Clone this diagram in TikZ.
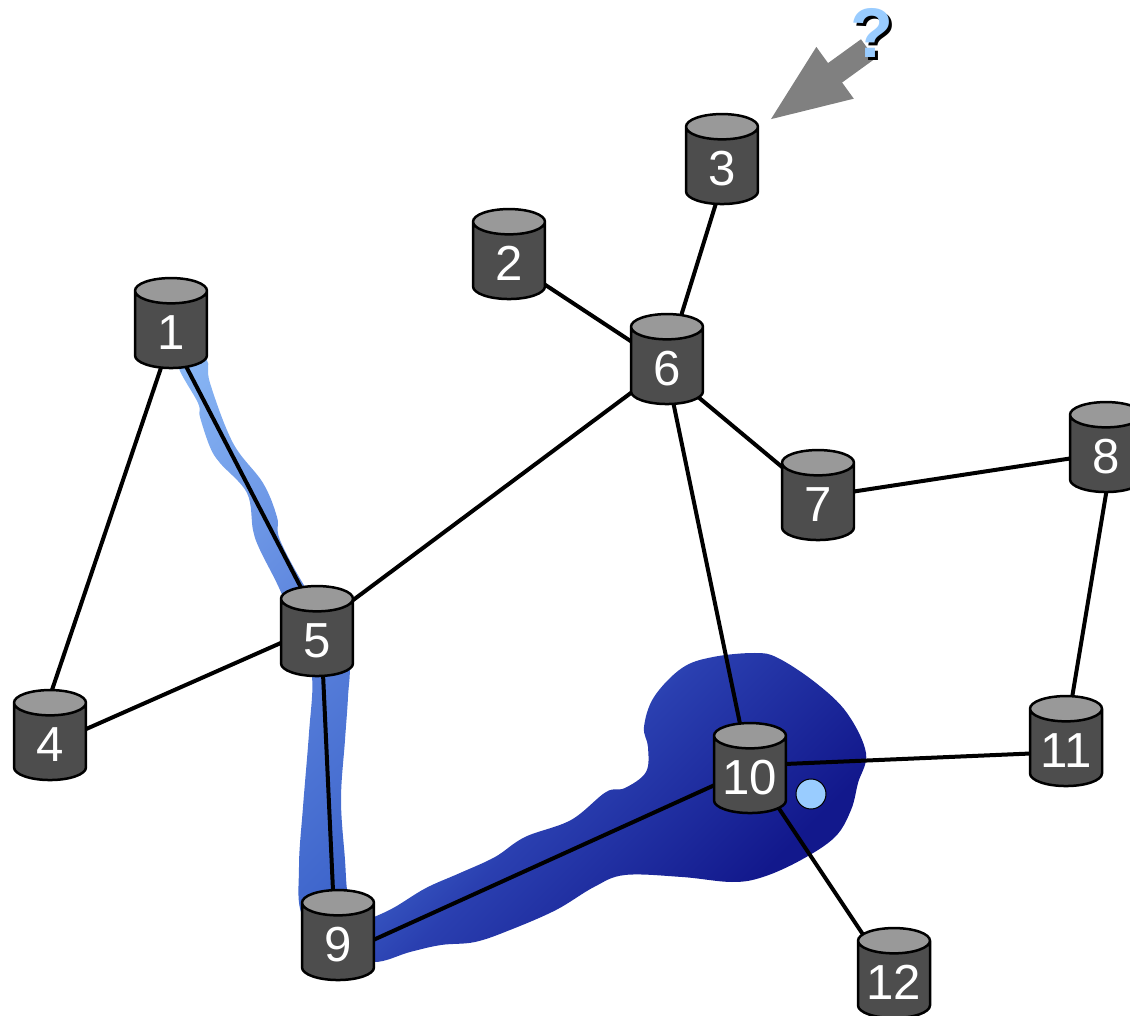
\documentclass[tikz,border=0pt]{standalone}
\usepackage{fontspec}
\setmainfont{Liberation Sans}
\usetikzlibrary{arrows.meta}
\usetikzlibrary{backgrounds}
\usetikzlibrary{shapes.geometric}
\definecolor{DbBody}{HTML}{4D4D4D}
\definecolor{DbTop}{HTML}{999999}
\definecolor{SkyDot}{HTML}{99CCFF}
\definecolor{RouteA}{HTML}{8AB8F5}
\definecolor{RouteB}{HTML}{5E86DE}
\definecolor{RouteC}{HTML}{3F66CC}
\definecolor{RouteD}{HTML}{2A3FB0}
\definecolor{RouteE}{HTML}{12188C}
\pgfdeclarehorizontalshading{routeshade}{100bp}{
  color(0bp)=(RouteA); color(15bp)=(RouteA); color(35bp)=(RouteB);
  color(52bp)=(RouteC); color(60bp)=(RouteD); color(75bp)=(RouteE);
  color(100bp)=(RouteE)}
\tikzset{
  dbnode/.style={shape=cylinder,
    shape border rotate=90,
    aspect=0.45,
    cylinder uses custom fill,
    cylinder body fill=DbBody,
    cylinder end fill=DbTop,
    draw=black,
    line width=0.05cm,
    inner sep=0pt,
    minimum width=1.44cm,
    minimum height=1.8cm,
    text width=32pt,
    align=center,
    text height=22pt,
    text depth=0pt,
    text=white,
    font=\fontsize{28}{28}\selectfont},
  link/.style={draw=black,line width=0.08cm}
}
\begin{document}
\begin{tikzpicture}[x=0.02cm,y=-0.02cm]
    \useasboundingbox (0,0) rectangle (1130,1016);
    \clip (0,0) rectangle (1130,1016);

    \node[name=n1,dbnode] at (171,330) {1};
    \node[name=n2,dbnode] at (509,261) {2};
    \node[name=n3,dbnode] at (722,166) {3};
    \node[name=n4,dbnode] at (50,742) {4};
    \node[name=n5,dbnode] at (317,638) {5};
    \node[name=n6,dbnode] at (667,366) {6};
    \node[name=n7,dbnode] at (818,502) {7};
    \node[name=n8,dbnode] at (1106,454) {8};
    \node[name=n9,dbnode] at (338,942) {9};
    \node[name=n10,dbnode] at (750,775) {10};
    \node[name=n11,dbnode] at (1066,748) {11};
    \node[name=n12,dbnode] at (894,980) {12};

    \begin{pgfonlayer}{background}
    % the route
    \shade[shading=routeshade,shading angle=-45]
      plot[smooth cycle,tension=0.6] coordinates {
      (190,350) (207,360) (210,383) (233,443) (263,483) (277,517) (280,540)
      (307,590) (335,625) (349,660) (348,697) (345,740) (341,800) (345,860)
      (347,890) (352,925) (374,917) (395,907) (426,888) (460,873) (495,857)
      (525,837) (571,820) (606,792) (625,788) (646,772) (648,747) (644,727)
      (654,697) (682,668) (713,657) (755,653) (778,658) (816,683) (847,713)
      (866,753) (858,783) (851,810) (835,837) (801,860) (763,877) (732,882)
      (682,877) (625,875) (594,887) (556,910) (510,930) (475,942) (441,945)
      (410,952) (374,962) (340,950) (303,917) (299,867) (303,807) (309,733)
      (312,677) (300,640) (280,590) (260,550) (253,530) (247,493) (220,463)
      (210,447) (200,417) (198,403) (178,365)};

    \path ([shift={(-5,23)}]n1.center) edge[link] ([shift={(2,-52)}]n4.center);
    \path ([shift={(-8,-8)}]n1.center) edge[link] ([shift={(6,-8)}]n5.center);
    \path ([shift={(0,0)}]n2.center) edge[link] ([shift={(0,-1)}]n6.center);
    \path ([shift={(8,-8)}]n3.center) edge[link] ([shift={(1,-8)}]n6.center);
    \path ([shift={(0,0)}]n6.center) edge[link] ([shift={(0,-11)}]n5.center);
    \path ([shift={(0,5)}]n6.center) edge[link] ([shift={(0,-5)}]n7.center);
    \path ([shift={(-3,-8)}]n6.center) edge[link] ([shift={(-1,-8)}]n10.center);
    \path ([shift={(0,-5)}]n7.center) edge[link] ([shift={(0,-1)}]n8.center);
    \path ([shift={(8,-8)}]n8.center) edge[link] ([shift={(-1,-8)}]n11.center);
    \path ([shift={(0,3)}]n4.center) edge[link] ([shift={(0,-11)}]n5.center);
    \path ([shift={(4,-8)}]n5.center) edge[link] ([shift={(-3,-8)}]n9.center);
    \path ([shift={(0,14)}]n9.center) edge[link] ([shift={(0,-6)}]n10.center);
    \path ([shift={(0,-9.5)}]n10.center) edge[link] ([shift={(0,4)}]n11.center);
    \path ([shift={(0,-10)}]n10.center) edge[link] ([shift={(0,1)}]n12.center);
    \end{pgfonlayer}

    \node[name=dot,shape=circle,fill=SkyDot,draw=black,line width=0.02cm,
      inner sep=0pt,minimum size=0.6cm] at (811,794) {};

    \coordinate (arrowtail) at (868,49);
    \coordinate (arrowtip) at (767,122);
    \draw[line width=0.48cm,color=gray,
      -{Triangle[length=1.68cm,width=1.13cm]}] (arrowtail) -- (arrowtip);

    \node[name=askshadow,text=black,font=\fontsize{40}{40}\selectfont\bfseries]
      at (875,36) {?};
    \node[name=ask,text=SkyDot,font=\fontsize{40}{40}\selectfont\bfseries]
      at (872,33) {?};
\end{tikzpicture}
\end{document}
